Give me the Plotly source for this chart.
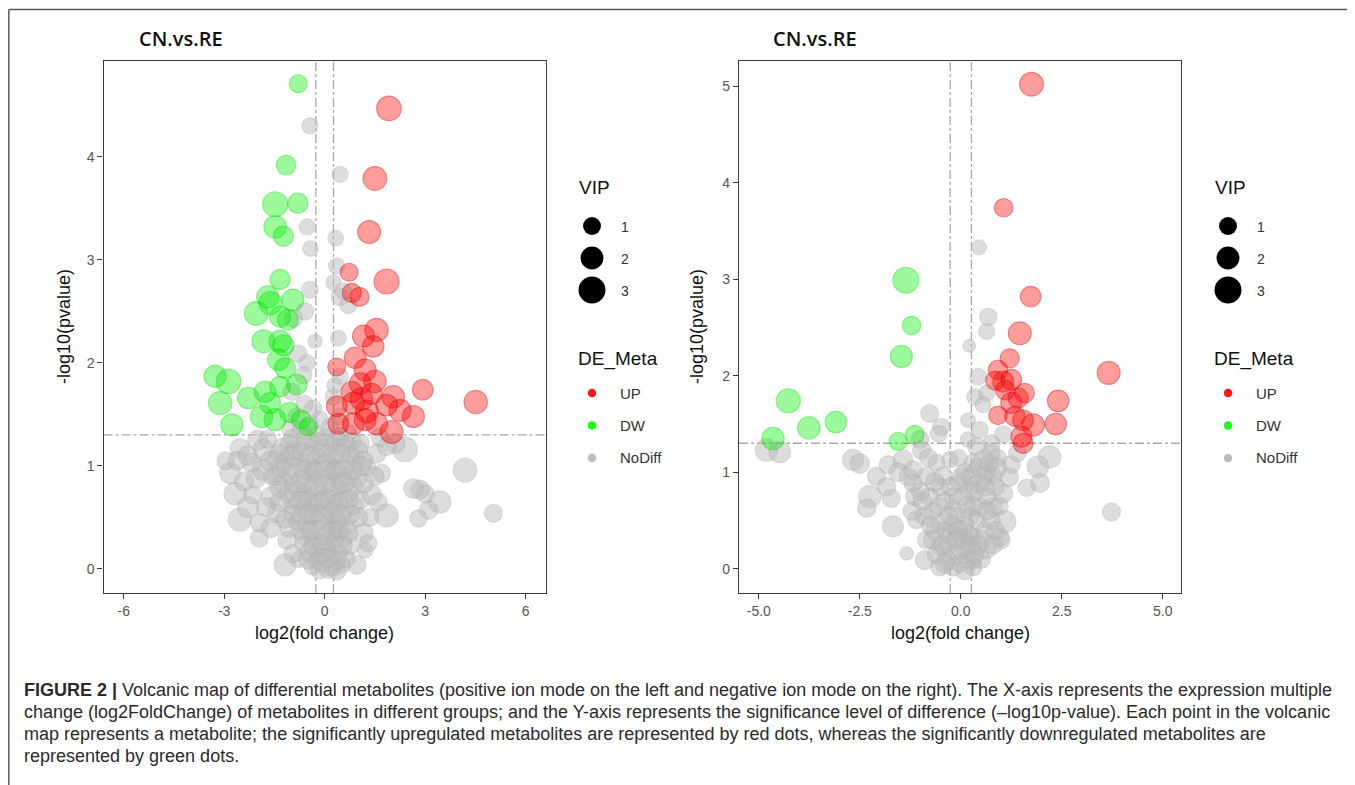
import numpy as np
import plotly.graph_objects as go

# ---------------- data: left panel (positive ion mode) ----------------
L_up_fc = [1.92, 1.50, 1.33, 1.85, 0.73, 1.04, 0.81, 1.55, 1.16, 1.45, 0.91, 0.36, 1.21, 1.50, 1.06, 0.81,
           2.93, 4.51, 2.05, 2.65, 2.25, 1.85, 0.86, 1.26, 1.21, 0.36, 0.41, 2.00, 1.55, 0.86, 1.10, 1.40]
L_up_p = [4.47, 3.79, 3.27, 2.79, 2.88, 2.64, 2.68, 2.32, 2.26, 2.16, 2.05, 1.96, 1.93, 1.82, 1.80, 1.72,
          1.74, 1.62, 1.67, 1.48, 1.54, 1.59, 1.61, 1.53, 1.45, 1.58, 1.41, 1.33, 1.41, 1.41, 1.65, 1.70]
L_up_vip = [2.4, 2.2, 2.0, 2.5, 1.0, 1.2, 1.2, 2.1, 1.8, 1.7, 1.7, 1.0, 1.8, 1.9, 1.7, 1.6,
            1.5, 2.1, 1.9, 1.8, 1.8, 1.7, 1.8, 2.0, 1.8, 1.5, 1.5, 2.0, 1.8, 1.7, 1.9, 1.6]

L_dw_fc = [-0.79, -1.15, -1.48, -0.80, -1.48, -1.23, -1.33, -1.70, -1.62, -0.95, -2.04, -1.33, -1.10, -1.83,
           -1.33, -1.23, -1.38, -1.18, -3.27, -2.87, -3.12, -2.28, -2.77, -1.78, -1.33, -0.83, -1.88, -1.48,
           -1.63, -0.49, -1.05, -0.70]
L_dw_p = [4.71, 3.92, 3.54, 3.55, 3.32, 3.23, 2.81, 2.64, 2.58, 2.61, 2.48, 2.45, 2.42, 2.21,
          2.21, 2.17, 2.03, 1.95, 1.87, 1.82, 1.61, 1.66, 1.40, 1.72, 1.77, 1.79, 1.48, 1.45,
          1.61, 1.38, 1.52, 1.45]
L_dw_vip = [1.0, 1.3, 2.5, 1.4, 1.9, 1.4, 1.4, 1.8, 2.0, 1.8, 2.2, 1.6, 1.5, 2.0,
            1.8, 1.6, 1.7, 1.5, 1.8, 2.4, 2.1, 1.7, 1.8, 1.7, 1.5, 1.5, 1.9, 1.8,
            1.6, 1.0, 1.4, 1.2]

L_no_fc = [-0.44, 0.46, -0.52, 0.33, -0.42, 0.36, 0.26, -0.44, 0.46, 0.71, 0.55, -0.59, -0.93, -0.29, 0.41,
           -0.79, -0.53, -0.64, 0.46, -0.98, -0.34, 0.26, 0.30, -0.83, -0.14, 0.46, -0.60, -0.45, 0.15, -0.70,
           -1.00,
           4.19, 5.04, 3.44, 2.85, 3.10, 2.80, 3.00, 2.65, 1.70, 1.85, 2.40, 2.10, -2.53, -2.82, -2.67, -2.53,
           -2.18, -1.83, -2.28, -1.83, -1.43, -1.33, -1.43, -1.13, -1.18, -0.79, 1.16, 1.21, 0.96, 0.76, 1.06,
           1.41, 1.55, 1.26, 1.85, 1.65, 1.06, -2.00, -2.40, -1.60, -1.95, -1.70, -2.95, -1.55, -1.25,
           -1.05, -0.72, -0.38, -0.08, 0.22, 0.51, 0.82,
           -1.18, -0.86, -0.57, -0.24, 0.04, 0.33, 0.66, 0.95,
           -1.02, -0.71, -0.44, -0.16, 0.12, 0.41, 0.69, 0.98,
           -1.08, -0.79, -0.52, -0.21, 0.14, 0.44, 0.73,
           -0.92, -0.61, -0.31, -0.02, 0.29, 0.58, 0.88,
           -0.81, -0.52, -0.19, 0.11, 0.39, 0.68,
           -0.62, -0.31, 0.01, 0.29, 0.58,
           -0.48, -0.18, 0.12, 0.41,
           -0.36, -0.06, 0.24, 0.52,
           -0.90, -0.35, 0.25, 0.55, -0.05, -0.65, -0.35, 0.25, -0.05, 0.30, -0.40, 0.05, -0.25, 0.45, 0.70]
L_no_p = [4.30, 3.83, 3.32, 3.21, 3.11, 2.94, 2.78, 2.71, 2.64, 2.56, 2.70, 2.50, 2.43, 2.21, 2.24,
          2.09, 2.00, 1.88, 1.87, 1.72, 1.56, 1.67, 1.78, 1.48, 1.45, 1.48, 1.60, 1.40, 1.38, 1.35,
          1.36,
          0.96, 0.54, 0.65, 0.77, 0.57, 0.49, 0.73, 0.78, 0.93, 0.52, 1.16, 1.22, 1.17, 0.93, 0.73, 0.48,
          1.03, 1.16, 0.60, 0.96, 1.06, 0.80, 0.54, 0.28, 0.04, 0.09, 0.35, 0.18, 0.04, 0.22, 0.67,
          0.72, 1.12, 0.99, 1.19, 1.28, 1.22, 1.25, 0.85, 0.70, 0.45, 1.26, 1.05, 0.90, 1.18,
          1.21, 1.19, 1.23, 1.17, 1.22, 1.18, 1.24,
          1.04, 1.07, 1.02, 1.08, 1.03, 1.06, 1.01, 1.07,
          0.91, 0.87, 0.93, 0.88, 0.92, 0.86, 0.90, 0.88,
          0.74, 0.77, 0.72, 0.76, 0.73, 0.78, 0.74,
          0.61, 0.58, 0.62, 0.59, 0.63, 0.57, 0.61,
          0.46, 0.43, 0.47, 0.44, 0.46, 0.42,
          0.31, 0.28, 0.32, 0.29, 0.31,
          0.16, 0.13, 0.17, 0.14,
          0.03, 0.05, 0.02, 0.04,
          1.15, 0.98, 0.98, 0.68, 0.68, 0.68, 0.52, 0.52, 0.22, 0.38, 0.38, 1.28, 1.30, 1.29, 1.32]
L_no_vip = [0.7, 0.7, 0.7, 0.6, 0.6, 0.7, 0.5, 0.8, 0.9, 0.8, 0.7, 0.9, 1.0, 0.4, 0.6,
            0.9, 0.8, 0.9, 0.7, 0.9, 0.8, 0.8, 0.6, 1.0, 0.8, 0.9, 0.9, 0.9, 0.8, 1.1,
            1.2,
            2.2, 1.0, 1.9, 1.2, 1.1, 0.9, 1.0, 1.3, 1.0, 2.1, 2.4, 1.4, 1.3, 1.6, 1.9, 2.1,
            1.2, 1.5, 1.6, 1.7, 1.3, 1.6, 1.2, 1.0, 1.8, 0.6, 1.3, 0.6, 1.1, 1.0, 1.2,
            1.3, 1.2, 1.0, 1.1, 1.0, 1.1, 1.4, 1.2, 1.4, 1.1, 1.0, 1.0, 1.1, 1.2,
            1.1, 0.9, 0.8, 1.0, 0.9, 1.1, 1.0,
            1.2, 1.0, 0.9, 1.1, 0.9, 1.0, 1.2, 0.9,
            1.0, 1.1, 0.9, 1.0, 1.1, 0.9, 1.0, 1.2,
            1.1, 0.9, 1.0, 1.1, 1.0, 0.9, 1.1,
            1.0, 1.1, 0.9, 1.0, 1.0, 0.9, 1.1,
            1.0, 0.9, 1.1, 1.0, 0.9, 1.0,
            0.9, 1.0, 1.1, 0.9, 1.0,
            1.0, 0.9, 1.1, 1.0,
            0.9, 1.0, 1.1, 0.8,
            0.8, 0.9, 0.8, 0.9, 0.9, 0.8, 0.9, 0.8, 0.9, 0.8, 0.9, 0.9, 0.8, 0.9, 0.8]

# additional non-significant metabolites in the dense core of the left panel
L_core_fc = [-0.95, -0.55, -0.20, 0.35, 0.65, 1.00,
             -1.35, -1.00, -0.68, -0.42, -0.10, 0.18, 0.48, 0.78, 1.15,
             -1.30, -0.95, -0.62, -0.28, 0.02, 0.30, 0.57, 0.85,
             -1.25, -0.92, -0.60, -0.32, -0.02, 0.27, 0.58, 0.87, 1.18,
             -1.00, -0.75, -0.45, -0.15, 0.15, 0.42, 0.72,
             -0.95, -0.68, -0.42, -0.08, 0.22, 0.50, 0.80,
             -0.72, -0.45, -0.12, 0.18, 0.46, 0.72,
             -0.62, -0.35, -0.06, 0.25, 0.55,
             -0.50, -0.22, 0.08, 0.38, 0.65,
             -0.15, 0.12, 0.38,
             -2.30, -2.05, -1.65, -1.45, -2.15, -1.75, -1.95, -1.60, -1.35, -2.60, -1.20, -0.95, -1.05,
             1.35, 1.50, 1.30, 1.00, 1.60, 1.10]
L_core_p = [1.27, 1.26, 1.24, 1.25, 1.20, 1.15,
            1.12, 1.10, 1.13, 1.10, 1.12, 1.09, 1.12, 1.10, 1.05,
            0.98, 0.99, 0.96, 0.95, 0.97, 0.95, 0.97, 0.96,
            0.84, 0.81, 0.83, 0.80, 0.82, 0.80, 0.83, 0.80, 0.83,
            0.68, 0.66, 0.67, 0.65, 0.67, 0.65, 0.68,
            0.53, 0.51, 0.54, 0.52, 0.55, 0.51, 0.53,
            0.38, 0.36, 0.38, 0.36, 0.38, 0.35,
            0.23, 0.21, 0.24, 0.22, 0.23,
            0.09, 0.08, 0.10, 0.08, 0.10,
            -0.01, 0.00, -0.02,
            1.10, 0.88, 1.05, 0.90, 0.72, 0.60, 0.30, 0.40, 0.65, 1.05, 0.48, 0.15, 0.40,
            0.50, 0.90, 0.25, 0.50, 0.65, 1.00]
L_core_vip = [1.0, 1.1, 1.0, 1.1, 1.0, 1.2,
              1.1, 1.2, 1.0, 1.1, 1.2, 1.0, 1.1, 1.0, 1.2,
              1.0, 1.1, 1.2, 1.0, 1.1, 1.2, 1.0, 1.1,
              1.2, 1.0, 1.1, 1.2, 1.0, 1.1, 1.2, 1.0, 1.1,
              1.1, 1.2, 1.0, 1.1, 1.2, 1.0, 1.1,
              1.0, 1.1, 1.2, 1.0, 1.1, 1.2, 1.0,
              1.1, 1.0, 1.2, 1.1, 1.0, 1.1,
              1.0, 1.1, 1.2, 1.0, 1.1,
              1.1, 1.0, 1.2, 1.1, 0.9,
              1.0, 1.1, 0.9,
              1.2, 1.3, 1.2, 1.1, 1.0, 1.2, 1.0, 1.3, 1.1, 1.1, 1.0, 1.0, 1.2,
              1.0, 1.1, 0.9, 1.1, 1.0, 1.1]

# ---------------- data: right panel (negative ion mode) ----------------
R_up_fc = [1.75, 1.06, 1.73, 1.46, 1.21, 3.66, 0.92, 1.05, 1.25, 1.58, 2.41, 1.25, 1.42, 0.92, 1.34,
           1.54, 1.79, 2.35, 1.50, 1.54, 1.10, 0.85]
R_up_p = [5.02, 3.74, 2.82, 2.44, 2.18, 2.03, 2.06, 1.94, 1.96, 1.82, 1.74, 1.72, 1.77, 1.59, 1.58,
          1.54, 1.49, 1.50, 1.37, 1.30, 1.85, 1.95]
R_up_vip = [2.2, 1.1, 1.5, 2.0, 1.2, 2.0, 1.3, 1.6, 1.5, 1.3, 1.7, 1.6, 1.4, 1.1, 1.4,
            1.5, 1.9, 1.7, 1.6, 1.4, 1.3, 1.2]

R_dw_fc = [-1.36, -1.22, -1.47, -4.27, -3.76, -3.09, -4.65, -1.55, -1.14]
R_dw_p = [2.99, 2.52, 2.20, 1.74, 1.46, 1.52, 1.35, 1.32, 1.39]
R_dw_vip = [2.7, 1.1, 1.8, 2.3, 1.9, 1.7, 1.9, 1.0, 1.1]

R_no_fc = [0.45, 0.68, 0.64, 0.21, -4.81, -4.48, -2.67, -2.50, -0.77, -0.48, -0.55, 0.43, 0.64, 0.35, 0.55,
           0.18, 0.47, 0.18, 1.05, 0.76, 2.20, 1.91, 1.96, 1.63, 1.25, 3.73, -2.09, -1.84, -2.25, -2.33,
           -1.72, -1.68, -1.34, -0.89, -1.80, -1.43, -1.18, -0.85, -1.14, -0.52, -0.19, 0.30, 0.55, 0.80,
           1.05, 1.09, 0.97, 0.64, -0.85, -0.52, -0.11, 0.22, 0.30, -0.35, -0.02, 0.30, -0.52, 0.14,
           -0.19, 0.47, 0.80, -0.77, -0.44, -0.02, 0.22, 0.47, 0.64, 0.39, -0.27, -1.01, -0.97, -1.18,
           -1.10, -0.35, -0.52, -0.19, 0.30, 0.05, -0.70, 0.60, -0.30, 0.45, 0.90, 1.40, 0.10, -0.60, -1.30]
R_no_p = [3.33, 2.61, 2.46, 2.31, 1.23, 1.21, 1.13, 1.09, 1.61, 1.47, 1.40, 1.99, 1.82, 1.78, 1.70,
          1.54, 1.44, 1.34, 1.39, 1.30, 1.16, 1.06, 0.89, 0.84, 1.08, 0.59, 0.96, 0.85, 0.75, 0.63,
          0.73, 0.44, 0.16, 0.09, 1.08, 1.13, 1.02, 0.96, 0.75, 0.85, 0.75, 1.09, 1.13, 0.96,
          0.78, 0.49, 0.33, 0.20, 0.30, 0.47, 0.40, 0.54, 0.33, 0.09, 0.06, 0.09, 0.23, 0.20,
          0.61, 0.64, 0.64, 0.75, 0.96, 0.89, 0.82, 0.89, 1.02, 1.27, 1.13, 1.34, 1.23, 0.89,
          0.51, 0.40, 0.02, 0.02, 0.02, 0.30, 0.60, 0.40, 0.25, 0.25, 1.15, 1.20, 1.00, 1.10, 0.95]
R_no_vip = [0.5, 0.9, 0.7, 0.2, 1.9, 1.7, 1.6, 1.3, 1.0, 0.9, 0.8, 0.8, 0.7, 0.7, 0.7,
            0.5, 0.8, 0.6, 0.9, 0.9, 1.9, 1.7, 1.2, 0.9, 1.0, 1.0, 1.0, 1.1, 1.9, 1.1,
            1.0, 1.6, 0.3, 1.2, 1.0, 1.3, 1.2, 1.0, 1.1, 1.0, 1.0, 1.1, 1.3, 1.1,
            1.2, 1.8, 1.0, 1.1, 1.0, 1.1, 1.0, 1.1, 1.0, 1.2, 1.1, 1.0, 1.0, 1.2,
            1.0, 1.1, 1.2, 1.0, 1.1, 1.0, 1.1, 1.2, 1.0, 1.0, 0.8, 1.0, 1.1, 1.0,
            1.0, 1.1, 1.0, 1.1, 1.0, 1.1, 0.9, 1.0, 1.1, 1.0, 1.0, 0.9, 1.0, 0.8, 1.0]

# additional non-significant metabolites in the dense core of the right panel
R_core_fc = [-0.90, -0.65, -0.40, -0.10, 0.15, 0.40, 0.65, 0.85, 0.55, 0.35, 0.10, -0.25, -0.60, -0.15,
             0.20, 0.50, 0.00, -0.40, 0.10, -0.20, 0.75, 0.95, 0.65, 0.45, 0.75, -0.05, -0.80, -1.55,
             -1.00, -0.65, 0.25, 1.20, 1.00, 0.80, -0.75,
             -0.70, -0.45, -0.30, 0.05, 0.30, 0.50, 0.20, -0.05, 0.35, -0.10, 0.60, 0.85, -0.55, 0.00,
             0.90, 0.70, -1.20, -0.95, 0.25, -0.25]
R_core_p = [0.55, 0.40, 0.70, 0.55, 0.65, 0.50, 0.75, 0.85, 0.95, 0.80, 0.45, 0.35, 0.15, 0.15,
            0.10, 0.10, 0.20, 0.05, -0.02, 0.45, 0.50, 0.65, 0.60, 1.05, 1.20, 1.15, 1.15, 1.00,
            0.80, 0.90, 0.95, 0.95, 0.30, 0.25, 0.45,
            0.30, 0.25, 0.55, 0.75, 0.65, 0.30, 0.35, 0.40, 0.15, 0.30, 0.85, 0.40, 0.65, 0.95,
            1.05, 1.10, 0.60, 0.70, 0.25, 0.85]
R_core_vip = [1.0, 1.1, 1.0, 1.1, 1.0, 1.1, 1.0, 1.1, 1.2, 1.0, 1.1, 1.0, 1.1, 1.2,
              1.0, 1.1, 1.0, 1.1, 1.0, 1.0, 1.1, 1.0, 1.0, 1.1, 1.0, 0.8, 1.0, 1.1,
              1.0, 1.1, 1.2, 1.1, 1.0, 1.1, 1.0,
              1.0, 1.1, 1.0, 1.1, 1.0, 1.1, 1.0, 1.1, 1.0, 1.0, 1.1, 1.0, 1.0, 1.1,
              1.2, 1.0, 1.1, 1.0, 1.0, 1.0]

# thresholds, axes, legend values and texts
FC_CUT = 0.263
P_CUT = 1.301
L_XTICKS = [-6, -3, 0, 3, 6]
L_XTICKTEXT = ["-6", "-3", "0", "3", "6"]
L_YTICKS = [0, 1, 2, 3, 4]
R_XTICKS = [-5.0, -2.5, 0.0, 2.5, 5.0]
R_XTICKTEXT = ["-5.0", "-2.5", "0.0", "2.5", "5.0"]
R_YTICKS = [0, 1, 2, 3, 4, 5]
VIP_LEGEND = [1, 2, 3]
DE_LEVELS = ["UP", "DW", "NoDiff"]
PANEL_TITLE = "CN.vs.RE"
X_TITLE = "log2(fold change)"
Y_TITLE = "-log10(pvalue)"
CAPTION = [
    "<b>FIGURE 2 |</b> Volcanic map of differential metabolites (positive ion mode on the left and negative ion mode on the right). The X-axis represents the expression multiple",
    "change (log2FoldChange) of metabolites in different groups; and the Y-axis represents the significance level of difference (\u2013log10p-value). Each point in the volcanic",
    "map represents a metabolite; the significantly upregulated metabolites are represented by red dots, whereas the significantly downregulated metabolites are",
    "represented by green dots.",
]

# ---------------- styling ----------------
OFF = 8                      # page body margin of the html page
W, H = 1355 - OFF, 785 - OFF
FILL = {"UP": "rgba(255,0,0,0.55)", "DW": "rgba(0,240,0,0.55)", "NoDiff": "rgba(188,188,188,0.7)"}
EDGE = {"UP": "rgba(215,0,0,0.6)", "DW": "rgba(0,215,0,0.55)", "NoDiff": "rgba(172,172,172,0.5)"}
KEY = {"UP": "#ff1a1a", "DW": "#1aff1a", "NoDiff": "#bdbdbd"}


def vip_size(v):
    return np.sqrt(120 + 202 * np.asarray(v, dtype=float))


def fx(p):
    return (p - OFF) / W


def fy(p):
    return 1 - (p - OFF) / H


fig = go.Figure()

panels = [
    ("x", "y", [(L_no_fc + L_core_fc, L_no_p + L_core_p, L_no_vip + L_core_vip, "NoDiff"),
                (L_dw_fc, L_dw_p, L_dw_vip, "DW"), (L_up_fc, L_up_p, L_up_vip, "UP")]),
    ("x2", "y2", [(R_no_fc + R_core_fc, R_no_p + R_core_p, R_no_vip + R_core_vip, "NoDiff"),
                  (R_dw_fc, R_dw_p, R_dw_vip, "DW"), (R_up_fc, R_up_p, R_up_vip, "UP")]),
]
for xa, ya, groups in panels:
    for fc, p, vip, lev in groups:
        fig.add_trace(go.Scatter(
            x=fc, y=p, mode="markers", xaxis=xa, yaxis=ya, showlegend=False, hoverinfo="skip",
            marker=dict(size=vip_size(vip), color=FILL[lev], line=dict(color=EDGE[lev], width=1.2)),
        ))

axis_common = dict(showline=True, mirror=True, linecolor="#3a3a3a", linewidth=1.3, ticks="outside",
                   ticklen=5, tickwidth=1.1, tickcolor="#3a3a3a", showgrid=False, zeroline=False,
                   tickfont=dict(family="Liberation Sans, Arial, sans-serif", size=14, color="#555555"))

L_DOM = (103.6, 545.7)
R_DOM = (739, 1181)
Y_DOM = (593, 61)

fig.update_layout(
    width=W, height=H, margin=dict(l=0, r=0, t=0, b=0),
    paper_bgcolor="white", plot_bgcolor="white",
    xaxis=dict(domain=[fx(L_DOM[0]), fx(L_DOM[1])], range=[-6.6, 6.6], tickvals=L_XTICKS,
               ticktext=L_XTICKTEXT, anchor="y", **axis_common),
    yaxis=dict(domain=[fy(Y_DOM[0]), fy(Y_DOM[1])], range=[-0.233, 4.93], tickvals=L_YTICKS,
               anchor="x", **axis_common),
    xaxis2=dict(domain=[fx(R_DOM[0]), fx(R_DOM[1])], range=[-5.49, 5.45], tickvals=R_XTICKS,
                ticktext=R_XTICKTEXT, anchor="y2", **axis_common),
    yaxis2=dict(domain=[fy(Y_DOM[0]), fy(Y_DOM[1])], range=[-0.25, 5.26], tickvals=R_YTICKS,
                anchor="x2", **axis_common),
)

shapes = []
for xa, ya in [("x", "y"), ("x2", "y2")]:
    for v in (-FC_CUT, FC_CUT):
        shapes.append(dict(type="line", xref=xa, yref=ya + " domain", x0=v, x1=v, y0=0, y1=1,
                           line=dict(color="#a8a8a8", width=1.3, dash="dashdot"), layer="below"))
    shapes.append(dict(type="line", xref=xa + " domain", yref=ya, x0=0, x1=1, y0=P_CUT, y1=P_CUT,
                       line=dict(color="#a8a8a8", width=1.3, dash="dashdot"), layer="below"))

# outer figure frame (top and left edges)
shapes.append(dict(type="line", xref="paper", yref="paper", x0=fx(8.8), x1=1, y0=fy(9.5), y1=fy(9.5),
                   line=dict(color="#5a5a5a", width=1.5)))
shapes.append(dict(type="line", xref="paper", yref="paper", x0=fx(8.8), x1=fx(8.8), y0=fy(9.5), y1=0,
                   line=dict(color="#5a5a5a", width=1.5)))

annotations = []
txt_font = "Liberation Sans, Arial, sans-serif"
for title_x, x_center, ylab_x, leg_x in [(137, (L_DOM[0] + L_DOM[1]) / 2, 64, 577),
                                          (771, (R_DOM[0] + R_DOM[1]) / 2, 697, 1213)]:
    annotations.append(dict(text=PANEL_TITLE, x=fx(title_x), y=fy(39), xref="paper", yref="paper",
                            xanchor="left", yanchor="middle", showarrow=False,
                            font=dict(family="Open Sans, sans-serif", size=20, color="#111111", weight=600)))
    annotations.append(dict(text=X_TITLE, x=fx(x_center), y=fy(633), xref="paper", yref="paper",
                            xanchor="center", yanchor="middle", showarrow=False,
                            font=dict(family=txt_font, size=18, color="#111111")))
    annotations.append(dict(text=Y_TITLE, x=fx(ylab_x), y=fy(327), xref="paper", yref="paper",
                            xanchor="center", yanchor="middle", showarrow=False, textangle=-90,
                            font=dict(family=txt_font, size=18, color="#111111")))
    # VIP legend
    annotations.append(dict(text="VIP", x=fx(leg_x), y=fy(188), xref="paper", yref="paper",
                            xanchor="left", yanchor="middle", showarrow=False,
                            font=dict(family=txt_font, size=19, color="#111111")))
    cx = leg_x + 15
    for i, v in enumerate(VIP_LEGEND):
        cy = 226 + 32 * i
        d = float(vip_size(v))
        shapes.append(dict(type="circle", xref="paper", yref="paper",
                           x0=fx(cx - d / 2), x1=fx(cx + d / 2), y0=fy(cy + d / 2), y1=fy(cy - d / 2),
                           fillcolor="black", line=dict(width=0)))
        annotations.append(dict(text=str(v), x=fx(leg_x + 42), y=fy(cy + 1), xref="paper", yref="paper",
                                xanchor="left", yanchor="middle", showarrow=False,
                                font=dict(family=txt_font, size=14, color="#333333")))
    # DE_Meta legend
    annotations.append(dict(text="DE_Meta", x=fx(leg_x - 1), y=fy(359), xref="paper", yref="paper",
                            xanchor="left", yanchor="middle", showarrow=False,
                            font=dict(family=txt_font, size=19, color="#111111")))
    for i, lev in enumerate(DE_LEVELS):
        cy = 393 + 32.5 * i
        d = 8.5
        shapes.append(dict(type="circle", xref="paper", yref="paper",
                           x0=fx(cx - d / 2), x1=fx(cx + d / 2), y0=fy(cy + d / 2), y1=fy(cy - d / 2),
                           fillcolor=KEY[lev], line=dict(width=0)))
        annotations.append(dict(text=lev, x=fx(leg_x + 41), y=fy(cy), xref="paper", yref="paper",
                                xanchor="left", yanchor="middle", showarrow=False,
                                font=dict(family=txt_font, size=15, color="#333333")))

for i, line in enumerate(CAPTION):
    annotations.append(dict(text=line, x=fx(22), y=fy(690 + 22 * i), xref="paper", yref="paper",
                            xanchor="left", yanchor="middle", showarrow=False,
                            font=dict(family=txt_font, size=18, color="#2a2a2a")))

fig.update_layout(shapes=shapes, annotations=annotations)
fig.write_html("out.html")
